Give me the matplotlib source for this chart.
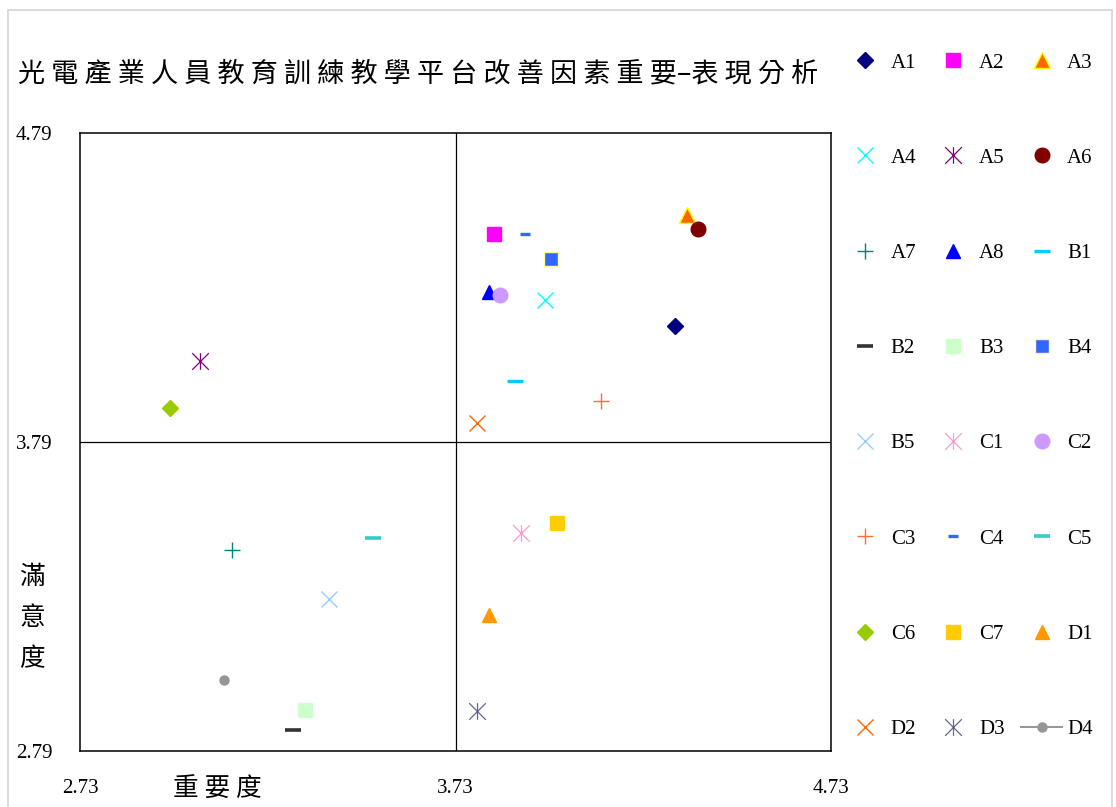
import matplotlib
matplotlib.use('Agg')
import matplotlib.pyplot as plt
from matplotlib.path import Path
from matplotlib.patches import Rectangle

plt.rcParams['font.family'] = ['Liberation Serif', 'Noto Sans CJK TC']

# importance (x) / satisfaction (y) per improvement factor
labels = ['A1', 'A2', 'A3', 'A4', 'A5', 'A6', 'A7', 'A8',
          'B1', 'B2', 'B3', 'B4', 'B5',
          'C1', 'C2', 'C3', 'C4', 'C5', 'C6', 'C7',
          'D1', 'D2', 'D3', 'D4']
importance = [4.314, 3.833, 4.346, 3.968, 3.049, 4.376, 3.134, 3.818,
              3.888, 3.298, 3.328, 3.983, 3.394,
              3.904, 3.849, 4.117, 3.914, 3.511, 2.969, 3.999,
              3.819, 3.788, 3.788, 3.114]
satisfaction = [4.166, 4.462, 4.526, 4.250, 4.052, 4.480, 3.441, 4.276,
                3.987, 2.858, 2.922, 4.383, 3.281,
                3.494, 4.266, 3.922, 4.462, 3.478, 3.901, 3.527,
                3.230, 3.853, 2.919, 3.019]

x_ticks = [2.73, 3.73, 4.73]
y_ticks = [2.79, 3.79, 4.79]
x_mid = 3.73
y_mid = 3.79

title = '光電產業人員教育訓練教學平台改善因素重要–表現分析'
x_label = '重要度'
y_label = '滿意度'

# asterisk: vertical bar plus an X
star = Path([(0, -1), (0, 1), (-1, -1), (1, 1), (-1, 1), (1, -1)],
            [Path.MOVETO, Path.LINETO, Path.MOVETO, Path.LINETO,
             Path.MOVETO, Path.LINETO])

styles = [
    dict(marker='D', color='#000080', ms=8.1),
    dict(marker='s', color='#FF00FF', ms=10.3),
    dict(marker='^', color='#FF6600', ms=11, mec='#FFFF00', mew=1.0),
    dict(marker='x', color='#00FFFF', ms=11.5, mew=1.0),
    dict(marker=star, color='#800080', ms=12, mew=0.9),
    dict(marker='o', color='#800000', ms=10.5),
    dict(marker='+', color='#008080', ms=11.5, mew=1.0),
    dict(marker='^', color='#0000FF', ms=10.5),
    dict(marker='_', color='#00CCFF', ms=12, mew=2.4),
    dict(marker='_', color='#333333', ms=11.5, mew=2.6),
    dict(marker='s', color='#CCFFCC', ms=10.3),
    dict(marker='s', color='#3366FF', ms=10, mec='#FFFF99', mew=1.0),
    dict(marker='x', color='#99CCFF', ms=11.5, mew=1.0),
    dict(marker=star, color='#FF99CC', ms=12, mew=0.9),
    dict(marker='o', color='#CC99FF', ms=10.5),
    dict(marker='+', color='#FF6E2A', ms=11.5, mew=1.0),
    dict(marker='_', color='#3366FF', ms=6.5, mew=2.4),
    dict(marker='_', color='#33CCCC', ms=11.5, mew=2.6),
    dict(marker='D', color='#99CC00', ms=8.1),
    dict(marker='s', color='#FFCC00', ms=10.3),
    dict(marker='^', color='#FF9900', ms=10.5),
    dict(marker='x', color='#FF6600', ms=11.5, mew=1.0),
    dict(marker=star, color='#666699', ms=12, mew=0.9),
    dict(marker='o', color='#969696', ms=6.5, ls='-', lw=1.4),
]

W, H = 1116, 807
fig = plt.figure(figsize=(W / 100, H / 100), dpi=100)
fig.patch.set_facecolor('white')
ax = fig.add_axes([80 / W, 1 - 751 / H, 751 / W, 618 / H])

for name, xv, yv, st in zip(labels, importance, satisfaction, styles):
    st = dict(st)
    ls = st.pop('ls', 'none')
    ax.plot([xv], [yv], linestyle=ls, label=name, **st)

ax.axvline(x_mid, color='black', lw=0.9)
ax.axhline(y_mid, color='black', lw=0.9)

ax.set_xlim(x_ticks[0], x_ticks[-1])
ax.set_ylim(y_ticks[0], y_ticks[-1])
ax.set_xticks(x_ticks)
ax.set_yticks(y_ticks)
ax.set_xticklabels(['%.2f' % v for v in x_ticks])
ax.set_yticklabels(['%.2f' % v for v in y_ticks])
ax.tick_params(length=0, labelsize=15, pad=20)
for sp in ax.spines.values():
    sp.set_linewidth(1.1)
    sp.set_color('black')

fig.text(18 / W, 1 - 74 / H, ' '.join(title[:20]) + title[20] + ' '.join(title[21:]),
         fontsize=19.5, family='Noto Sans CJK TC', va='center', ha='left')
fig.text(173 / W, 1 - 790 / H, ' '.join(x_label), fontsize=18.5,
         family='Noto Sans CJK TC', va='center', ha='left')
fig.text(32 / W, 1 - 618 / H, '\n'.join(y_label), fontsize=18.5,
         family='Noto Sans CJK TC', va='center', ha='center', linespacing=1.75)

# outer chart border
fig.patches.append(Rectangle((8 / W, -0.1), 1104 / W, 1.1 - 10 / H,
                             transform=fig.transFigure, fill=False,
                             edgecolor='#d4d4d4', lw=1.2))

handles, names = ax.get_legend_handles_labels()
order = [r * 3 + c for c in range(3) for r in range(8)]
fig.legend([handles[i] for i in order], [names[i] for i in order],
           ncol=3, loc='upper left', bbox_to_anchor=(845 / W, 1 - 53 / H),
           bbox_transform=fig.transFigure, frameon=False, fontsize=15,
           handlelength=1.95, handletextpad=0.25, columnspacing=0.8,
           labelspacing=3.63, borderpad=0, borderaxespad=0, numpoints=1)

fig.savefig('out.png', dpi=100)
